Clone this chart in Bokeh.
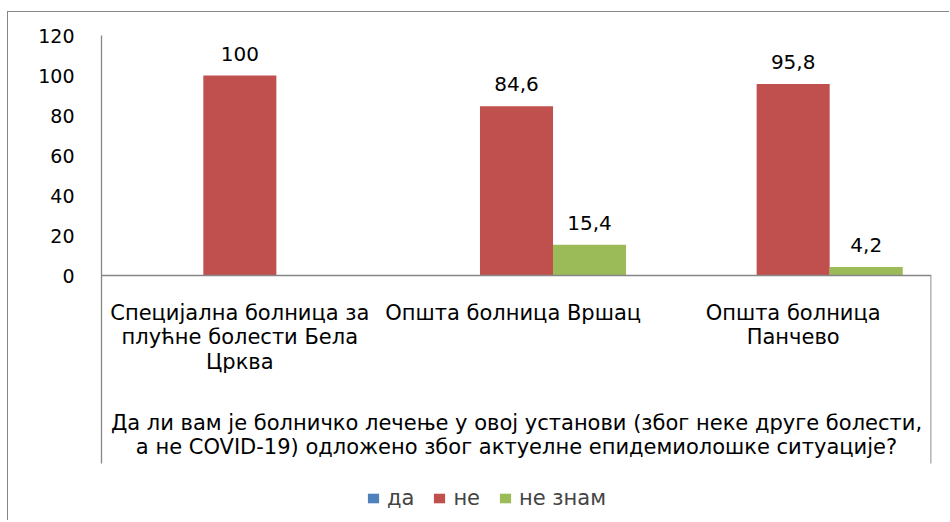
import math
from bokeh.plotting import figure
from bokeh.models import (ColumnDataSource, FactorRange, Range1d, LabelSet, Legend,
                          LegendItem, FixedTicker)
from bokeh.core.properties import value
from bokeh.transform import dodge
from bokeh.embed import file_html
from bokeh.resources import INLINE

# ---- data ----
categories = [
    "Специјална болница за\nплућне болести Бела\nЦрква",
    "Општа болница  Вршац",
    "Општа болница\nПанчево",
]
series_names = ["да", "не", "не знам"]
values_da = [math.nan, math.nan, math.nan]
values_ne = [100, 84.6, 95.8]
values_ne_znam = [math.nan, 15.4, 4.2]
y_ticks = [0, 20, 40, 60, 80, 100, 120]
axis_title = ("Да ли вам је болничко лечење у овој установи (због неке друге болести,\n"
              "а не COVID-19) одложено због актуелне епидемиолошке ситуације?")

colors = ["#4F81BD", "#C0504D", "#9BBB59"]
FONT = "DejaVu Sans"
FS = "19px"
FSD = "20px"
FSX = "21px"
GRAY = "#868686"

# value scale: 2 px per unit; the frame extends below 0 to host the category box
Y_MAX = 120
Y_MIN = -122.5
BOX_BOTTOM = -94

p = figure(x_range=FactorRange(factors=categories, range_padding=0),
           y_range=Range1d(Y_MIN, Y_MAX),
           frame_width=830, frame_height=485, output_backend="svg", toolbar_location=None,
           min_border_left=93, min_border_right=18, min_border_top=23, min_border_bottom=0,
           margin=(11, 0, 0, 7))
p.styles = {"border-left": f"1px solid {GRAY}", "border-top": f"1px solid {GRAY}"}
p.xgrid.visible = False
p.ygrid.visible = False
p.outline_line_color = None
p.background_fill_color = "white"
p.border_fill_color = "white"

bw = 0.264
offsets = [-bw, 0.0, bw]
all_series = [values_da, values_ne, values_ne_znam]
renderers = []
for name, vals, off, col in zip(series_names, all_series, offsets, colors):
    src = ColumnDataSource(dict(cat=categories, val=vals))
    r = p.vbar(x=dodge("cat", off, range=p.x_range), top="val", bottom=0, width=bw,
               source=src, fill_color=col, line_color=None)
    renderers.append(r)
    lab_c, lab_v, lab_t = [], [], []
    for c, v in zip(categories, vals):
        if not math.isnan(v):
            lab_c.append(c)
            lab_v.append(v)
            lab_t.append(f"{v:g}".replace(".", ","))
    lsrc = ColumnDataSource(dict(cat=lab_c, val=lab_v, txt=lab_t))
    p.add_layout(LabelSet(x=dodge("cat", off, range=p.x_range), y="val", text="txt",
                          source=lsrc, text_align="center", text_baseline="alphabetic",
                          y_offset=15, text_font=value(FONT), text_font_size=value(FSD),
                          text_color="black"))

# right edge of the category box (right side of the last category)
edge_src = ColumnDataSource(dict(edge=[categories[-1]], y0=[BOX_BOTTOM], y1=[0]))
p.segment(x0=dodge("edge", 0.4985, range=p.x_range), y0="y0",
          x1=dodge("edge", 0.4985, range=p.x_range), y1="y1",
          source=edge_src, line_color=GRAY, line_width=1.3)

# y axis (left): line spans the value area and the category box
ya = p.yaxis[0]
ya.ticker = FixedTicker(ticks=y_ticks)
ya.bounds = (BOX_BOTTOM, Y_MAX)
ya.major_tick_in = 0
ya.major_tick_out = 0
ya.minor_tick_in = 0
ya.minor_tick_out = 0
ya.axis_line_color = GRAY
ya.axis_line_width = 1.3
ya.major_label_text_font = FONT
ya.major_label_text_font_size = FS
ya.major_label_text_color = "black"
ya.major_label_standoff = 27

# x axis at value 0
xa = p.xaxis[0]
xa.fixed_location = 0
xa.major_tick_in = 0
xa.major_tick_out = 0
xa.axis_line_color = GRAY
xa.axis_line_width = 1.3
xa.major_label_text_font = FONT
xa.major_label_text_font_size = FSX
xa.major_label_text_color = "black"
xa.major_label_text_line_height = 1.04
xa.major_label_standoff = 25
xa.major_label_orientation = "horizontal"
xa.axis_label = axis_title
xa.axis_label_text_font = FONT
xa.axis_label_text_font_size = FSX
xa.axis_label_text_font_style = "normal"
xa.axis_label_text_color = "black"
xa.axis_label_text_line_height = 0.98
xa.axis_label_standoff = 34

legend = Legend(items=[LegendItem(label=n, renderers=[r]) for n, r in zip(series_names, renderers)],
                orientation="horizontal", location=(265, 10),
                border_line_color=None, background_fill_alpha=0,
                glyph_width=14, glyph_height=12, label_standoff=7, spacing=18,
                label_text_font=FONT, label_text_font_size=FSX, padding=0, margin=0)
p.add_layout(legend, "center")

open("out.html", "w").write(file_html(p, INLINE))
